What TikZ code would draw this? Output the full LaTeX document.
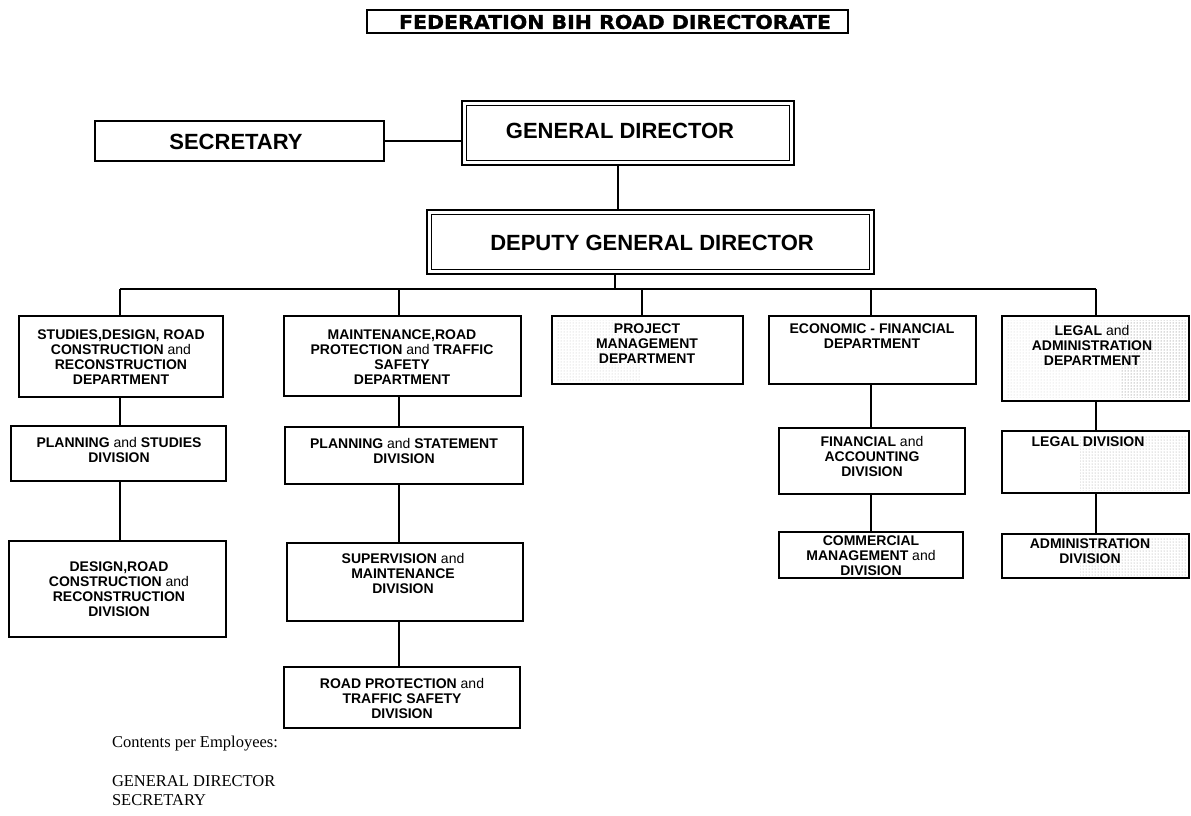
\documentclass[tikz,border=0pt]{standalone}
\usepackage{fontspec}
\setmainfont{Liberation Sans}
\newfontfamily\titlefont[FakeStretch=1.08,FakeBold=1.2]{DejaVu Sans Bold}
\newfontfamily\serifface{Liberation Serif}
\usetikzlibrary{patterns}
\newcommand{\nd}{{\mdseries and}}
\newcommand\bx[6]{\node[#6, minimum width={(#4-#2)*1pt}, minimum height={(#5-#3)*1pt}] (#1) at ({(#2+#4)/2},{(#3+#5)/2}) {};}
\begin{document}
\begin{tikzpicture}[x=1pt,y=-1pt,
  every node/.style={inner sep=0pt, outer sep=0pt},
  conn/.style={line width=1.2pt},
  thinbox/.style={draw, line width=1.4pt},
  deptbox/.style={draw, line width=2.4pt},
  heavybox/.style={draw, line width=2.8pt},
  boxtext/.style={align=center, font=\bfseries\fontsize{14}{15}\selectfont},
  bigtext/.style={font=\bfseries\fontsize{22}{24}\selectfont},
  titletext/.style={font=\titlefont\fontsize{19}{21}\selectfont},
  foot/.style={anchor=base west, font=\serifface\fontsize{16.5}{19}\selectfont},
  speck/.style={pattern=dots, pattern color=black!#1}]
\useasboundingbox (0,0) rectangle (1191,815);

% scan speckles
\fill[speck=25] (556,320) rectangle (640,380);
\fill[speck=20] (1006,320) rectangle (1186,397);
\fill[speck=45] (1120,320) rectangle (1186,397);
\fill[speck=40] (1080,435) rectangle (1186,490);
\fill[speck=40] (1080,538) rectangle (1186,575);

% boxes
\bx{title}{367}{10}{848}{33}{thinbox}
\bx{sec}{95}{121}{384}{161}{thinbox}
\bx{gd}{462}{101}{794}{165}{heavybox}
\bx{dgd}{427}{210}{874}{274}{heavybox}
\draw[line width=0.9pt] ([shift={(4.5,4.5)}]gd.north west) rectangle ([shift={(-4.5,-4.5)}]gd.south east);
\draw[line width=0.9pt] ([shift={(4.5,4.5)}]dgd.north west) rectangle ([shift={(-4.5,-4.5)}]dgd.south east);
\bx{studies}{19}{316}{223}{397}{deptbox}
\bx{maint}{284}{316}{521}{396}{deptbox}
\bx{project}{552}{316}{743}{384}{deptbox}
\bx{econ}{769}{316}{976}{384}{deptbox}
\bx{legal}{1002}{316}{1189}{401}{deptbox}
\bx{ps}{11}{426}{226}{481}{thinbox}
\bx{pst}{285}{427}{523}{484}{thinbox}
\bx{fin}{779}{428}{965}{494}{thinbox}
\bx{ld}{1002}{431}{1189}{493}{thinbox}
\bx{design}{9}{541}{226}{637}{thinbox}
\bx{sup}{287}{543}{523}{621}{thinbox}
\bx{com}{779}{532}{963}{578}{thinbox}
\bx{adm}{1002}{534}{1189}{578}{thinbox}
\bx{rp}{284}{667}{520}{728}{thinbox}

% texts
\node[titletext] (titleT) at (615,22) {FEDERATION BIH ROAD DIRECTORATE};
\node[bigtext] (secT) at (236,142) {SECRETARY};
\node[bigtext] (gdT) at (620,131) {GENERAL DIRECTOR};
\node[bigtext] (dgdT) at (652,243) {DEPUTY GENERAL DIRECTOR};
\node[boxtext] (studiesT) at (121,357) {STUDIES,DESIGN, ROAD\\CONSTRUCTION \nd\\RECONSTRUCTION\\DEPARTMENT};
\node[boxtext] (maintT) at (402,357) {MAINTENANCE,ROAD\\PROTECTION \nd{} TRAFFIC\\SAFETY\\DEPARTMENT};
\node[boxtext] (projectT) at (647,344) {PROJECT\\MANAGEMENT\\DEPARTMENT};
\node[boxtext] (econT) at (872,336) {ECONOMIC - FINANCIAL\\DEPARTMENT};
\node[boxtext] (legalT) at (1092,345) {LEGAL \nd\\ADMINISTRATION\\DEPARTMENT};
\node[boxtext] (psT) at (119,450) {PLANNING \nd{} STUDIES\\DIVISION};
\node[boxtext] (pstT) at (404,451) {PLANNING \nd{} STATEMENT\\DIVISION};
\node[boxtext] (finT) at (872,456) {FINANCIAL \nd\\ACCOUNTING\\DIVISION};
\node[boxtext] (ldT) at (1088,442) {LEGAL DIVISION};
\node[boxtext] (designT) at (119,589) {DESIGN,ROAD\\CONSTRUCTION \nd\\RECONSTRUCTION\\DIVISION};
\node[boxtext] (supT) at (403,573) {SUPERVISION \nd\\MAINTENANCE\\DIVISION};
\node[boxtext] (comT) at (871,556) {COMMERCIAL\\MANAGEMENT \nd\\DIVISION};
\node[boxtext] (admT) at (1090,551) {ADMINISTRATION\\DIVISION};
\node[boxtext] (rpT) at (402,698) {ROAD PROTECTION \nd\\TRAFFIC SAFETY\\DIVISION};

% connector columns
\coordinate (cS) at (120,289);
\coordinate (cM) at (399,289);
\coordinate (cP) at (642,289);
\coordinate (cE) at (871,289);
\coordinate (cL) at (1096,289);
\coordinate (cD) at (615,289);
\coordinate (cG) at (618,0);

\draw[conn] (sec.east) -- (sec.east -| gd.west);
\draw[conn] (gd.south -| cG) -- (dgd.north -| cG);
\draw[conn] (dgd.south -| cD) -- (cD);
\draw[conn] (cS) -- (cL);
\draw[conn] (cS) -- (studies.north -| cS);
\draw[conn] (cM) -- (maint.north -| cM);
\draw[conn] (cP) -- (project.north -| cP);
\draw[conn] (cE) -- (econ.north -| cE);
\draw[conn] (cL) -- (legal.north -| cL);
\draw[conn] (studies.south -| cS) -- (ps.north -| cS);
\draw[conn] (ps.south -| cS) -- (design.north -| cS);
\draw[conn] (maint.south -| cM) -- (pst.north -| cM);
\draw[conn] (pst.south -| cM) -- (sup.north -| cM);
\draw[conn] (sup.south -| cM) -- (rp.north -| cM);
\draw[conn] (econ.south -| cE) -- (fin.north -| cE);
\draw[conn] (fin.south -| cE) -- (com.north -| cE);
\draw[conn] (legal.south -| cL) -- (ld.north -| cL);
\draw[conn] (ld.south -| cL) -- (adm.north -| cL);

% footer text
\node[foot] (contents) at (112,747) {Contents per Employees:};
\node[foot] (empGD) at (112,786) {GENERAL DIRECTOR};
\node[foot] (empSec) at (112,805) {SECRETARY};
\end{tikzpicture}
\end{document}
